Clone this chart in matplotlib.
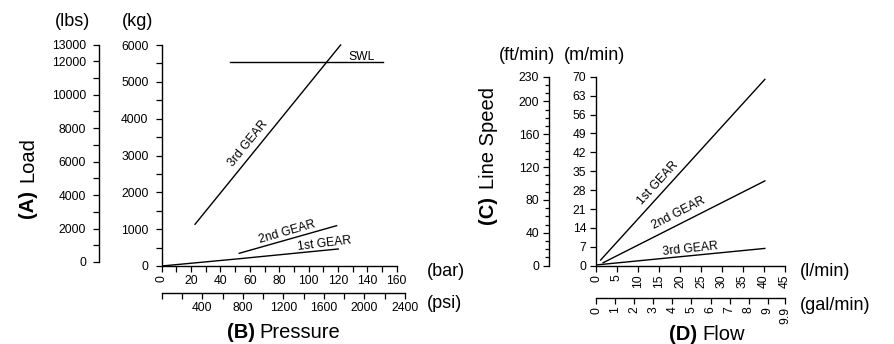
import numpy as np
import matplotlib
matplotlib.use('Agg')
import matplotlib.pyplot as plt

plt.rcParams['font.family'] = ['Liberation Sans', 'DejaVu Sans']

# Load / pressure chart (kg vs bar)
bar_3rd = [22.7, 121.8]
kg_3rd = [1133, 6000]
bar_2nd = [52.8, 119.1]
kg_2nd = [345, 1095]
bar_1st = [0, 53, 120.2]
kg_1st = [0, 198, 462]
bar_swl = [46.5, 150.4]
kg_swl = [5535, 5535]

kg_ticks = [0, 1000, 2000, 3000, 4000, 5000, 6000]
lbs_ticks = [0, 2000, 4000, 6000, 8000, 10000, 12000, 13000]
bar_ticks = [0, 20, 40, 60, 80, 100, 120, 140, 160]
psi_ticks = [0, 400, 800, 1200, 1600, 2000, 2400]

# Line speed / flow chart (m/min vs l/min)
flow_1st = [1.1, 40.2]
speed_1st = [2.1, 69.0]
flow_2nd = [1.7, 40.2]
speed_2nd = [1.1, 31.4]
flow_3rd = [0.2, 40.2]
speed_3rd = [0.3, 6.4]

mmin_ticks = [0, 7, 14, 21, 28, 35, 42, 49, 56, 63, 70]
ftmin_ticks = [0, 40, 80, 120, 160, 200, 230]
lmin_ticks = [0, 5, 10, 15, 20, 25, 30, 35, 40, 45]
gal_ticks = [0, 1, 2, 3, 4, 5, 6, 7, 8, 9, 9.9]

W, H = 894, 344
fig = plt.figure(figsize=(W / 100, H / 100), dpi=100)

def px_axes(x0, x1, y_bottom, y_top):
    # axes placed from pixel positions (y measured from the top of the image)
    ax = fig.add_axes([x0 / W, 1 - y_bottom / H, max(x1 - x0, 0.5) / W,
                       max(y_bottom - y_top, 0.5) / H])
    ax.patch.set_alpha(0)
    for s in ax.spines.values():
        s.set_visible(False)
        s.set_linewidth(1.0)
    return ax

def style_ticks(ax, axis, pad):
    ax.tick_params(axis=axis, which='major', direction='out', length=4.5,
                   width=0.9, labelsize=8.7, pad=pad)
    ax.tick_params(axis=axis, which='minor', direction='out', length=4,
                   width=0.9)

lw = 1.0

# ---------- left chart ----------
ax1 = px_axes(161.7, 396.7, 266, 45)
ax1.set_xlim(0, 160)
ax1.set_ylim(0, 6000)
ax1.spines['left'].set_visible(True)
ax1.spines['bottom'].set_visible(True)
ax1.set_yticks(kg_ticks)
ax1.set_yticks(np.arange(500, 6000, 1000), minor=True)
ax1.set_xticks(bar_ticks)
ax1.set_xticks(np.arange(10, 160, 20), minor=True)
style_ticks(ax1, 'y', 5)
style_ticks(ax1, 'x', 2)
ax1.set_xticklabels([str(t) for t in bar_ticks])
ax1.get_xticklabels()[0].set_rotation(90)

ax1.plot(bar_3rd, kg_3rd, color='black', lw=lw, clip_on=False)
ax1.plot(bar_2nd, kg_2nd, color='black', lw=lw)
ax1.plot(bar_1st, kg_1st, color='black', lw=lw)
ax1.plot(bar_swl, kg_swl, color='black', lw=lw)
gear_kw = dict(fontsize=8.7, ha='center', va='center', rotation_mode='anchor')
ax1.text(58.7, 3329, '3rd GEAR', rotation=51, **gear_kw)
ax1.text(136.3, 5679, 'SWL', **gear_kw)
ax1.text(85.6, 924, '2nd GEAR', rotation=16, **gear_kw)
ax1.text(110.8, 598, '1st GEAR', rotation=7, **gear_kw)

lbs = px_axes(99.3, 100, 262, 44.5)
lbs.set_ylim(0, 13000)
lbs.spines['left'].set_visible(True)
lbs.set_xticks([])
lbs.set_yticks(lbs_ticks)
lbs.set_yticks(np.arange(1000, 12000, 2000), minor=True)
style_ticks(lbs, 'y', 5)

psi = px_axes(161.7, 405, 293.3, 293)
psi.set_xlim(0, 2400)
psi.spines['bottom'].set_visible(True)
psi.set_yticks([])
psi.set_xticks(psi_ticks)
psi.set_xticklabels([''] + [str(t) for t in psi_ticks[1:]])
psi.set_xticks(np.arange(200, 2400, 400), minor=True)
style_ticks(psi, 'x', 1.5)

# ---------- right chart ----------
ax2 = px_axes(596, 785, 265.7, 76.7)
ax2.set_xlim(0, 45)
ax2.set_ylim(0, 70)
ax2.spines['left'].set_visible(True)
ax2.spines['bottom'].set_visible(True)
ax2.set_yticks(mmin_ticks)
ax2.set_xticks(lmin_ticks)
style_ticks(ax2, 'y', 2.5)
style_ticks(ax2, 'x', 2)
ax2.set_xticklabels([str(t) for t in lmin_ticks], rotation=90)

ax2.plot(flow_1st, speed_1st, color='black', lw=lw)
ax2.plot(flow_2nd, speed_2nd, color='black', lw=lw)
ax2.plot(flow_3rd, speed_3rd, color='black', lw=lw)
ax2.text(14.8, 30.6, '1st GEAR', rotation=47.5, **gear_kw)
ax2.text(19.6, 19.5, '2nd GEAR', rotation=27, **gear_kw)
ax2.text(22.4, 6.2, '3rd GEAR', rotation=6, **gear_kw)

ft = px_axes(549, 550, 265.7, 76.8)
ft.set_ylim(0, 230)
ft.spines['left'].set_visible(True)
ft.set_xticks([])
ft.set_yticks(ftmin_ticks)
ft.set_yticks(np.arange(10, 230, 10), minor=True)
style_ticks(ft, 'y', 2.5)
ft.tick_params(axis='y', which='minor', length=3)

gal = px_axes(596, 785, 298.3, 298)
gal.set_xlim(0, 9.9)
gal.spines['bottom'].set_visible(True)
gal.set_yticks([])
gal.set_xticks(gal_ticks)
gal.set_xticklabels(['0', '1', '2', '3', '4', '5', '6', '7', '8', '9', '9.9'],
                    rotation=90)
style_ticks(gal, 'x', 1.5)

# ---------- axis titles ----------
def ftext(x, y, s, **kw):
    fig.text(x / W, 1 - y / H, s, **kw)

unit_kw = dict(fontsize=13, va='center')
ftext(73, 21, '(lbs)', ha='center', **unit_kw)
ftext(137.5, 21, '(kg)', ha='center', **unit_kw)
ftext(427, 271, '(bar)', ha='left', **unit_kw)
ftext(427, 304, '(psi)', ha='left', **unit_kw)
ftext(527, 55, '(ft/min)', ha='center', **unit_kw)
ftext(594.5, 55, '(m/min)', ha='center', **unit_kw)
ftext(800, 271, '(l/min)', ha='left', **unit_kw)
ftext(800, 305, '(gal/min)', ha='left', **unit_kw)

title_kw = dict(fontsize=14.5, va='center')
ftext(255, 333, '(B)', ha='right', fontweight='bold', **title_kw)
ftext(259, 333, 'Pressure', ha='left', **title_kw)
ftext(697, 335, '(D)', ha='right', fontweight='bold', **title_kw)
ftext(702, 335, 'Flow', ha='left', **title_kw)

vt_kw = dict(fontsize=14.5, rotation=90, ha='center', va='bottom')
ftext(28, 218, '(A)', fontweight='bold', **vt_kw)
ftext(28, 182, 'Load', **vt_kw)
ftext(488, 224, '(C)', fontweight='bold', **vt_kw)
ftext(488, 189, 'Line Speed', **vt_kw)

fig.savefig('out.png', dpi=100)
